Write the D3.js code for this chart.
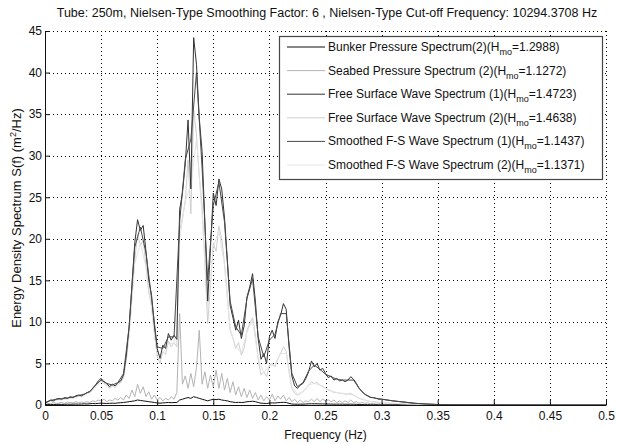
<!DOCTYPE html>
<html>
<head>
<meta charset="utf-8">
<script src="https://cdn.jsdelivr.net/npm/d3@7"></script>
<style>
  body { margin: 0; background: #fff; }
  text { font-family: "Liberation Sans", Arial, sans-serif; fill: #111; }
</style>
</head>
<body>
<div id="container"></div>
<script>
/* DATA */
const titleText = "Tube: 250m, Nielsen-Type Smoothing Factor: 6 , Nielsen-Type Cut-off Frequency: 10294.3708 Hz";
const xTicks = [0, 0.05, 0.1, 0.15, 0.2, 0.25, 0.3, 0.35, 0.4, 0.45, 0.5];
const yTicks = [0, 5, 10, 15, 20, 25, 30, 35, 40, 45];

// sample frequencies (Hz) for the raw spectra
const freqHz = [
  0, 0.0025, 0.005, 0.0075, 0.01, 0.0125, 0.015, 0.0175, 0.02, 0.0225,
  0.025, 0.0275, 0.03, 0.0325, 0.035, 0.0375, 0.04, 0.0425, 0.045, 0.0475,
  0.05, 0.0525, 0.055, 0.0575, 0.06, 0.0625, 0.065, 0.0675, 0.07, 0.0725,
  0.075, 0.0775, 0.08, 0.0825, 0.085, 0.0875, 0.09, 0.0925, 0.095, 0.0975,
  0.1, 0.1025, 0.105, 0.1075, 0.11, 0.1125, 0.115, 0.1175, 0.12, 0.1225,
  0.125, 0.1275, 0.13, 0.1325, 0.135, 0.1375, 0.14, 0.1425, 0.145, 0.1475,
  0.15, 0.1525, 0.155, 0.1575, 0.16, 0.1625, 0.165, 0.1675, 0.17, 0.1725,
  0.175, 0.1775, 0.18, 0.1825, 0.185, 0.1875, 0.19, 0.1925, 0.195, 0.1975,
  0.2, 0.2025, 0.205, 0.2075, 0.21, 0.2125, 0.215, 0.2175, 0.22, 0.2225,
  0.225, 0.2275, 0.23, 0.2325, 0.235, 0.2375, 0.24, 0.2425, 0.245, 0.2475,
  0.25, 0.2525, 0.255, 0.2575, 0.26, 0.2625, 0.265, 0.2675, 0.27, 0.2725,
  0.275, 0.2775, 0.28, 0.2825, 0.285, 0.2875, 0.29, 0.2925, 0.295, 0.2975,
  0.3, 0.31, 0.32, 0.33, 0.34, 0.35, 0.36, 0.38, 0.4, 0.45, 0.5
];

// sample frequencies (Hz) for the smoothed spectra
const freqSmooth = [
  0, 0.005, 0.01, 0.015, 0.02, 0.025, 0.03, 0.035, 0.04, 0.045,
  0.05, 0.055, 0.06, 0.065, 0.07, 0.075, 0.08, 0.085, 0.09, 0.095,
  0.1, 0.105, 0.11, 0.115, 0.12, 0.125, 0.13, 0.135, 0.14, 0.145,
  0.15, 0.155, 0.16, 0.165, 0.17, 0.175, 0.18, 0.185, 0.19, 0.195,
  0.2, 0.205, 0.21, 0.215, 0.22, 0.225, 0.23, 0.235, 0.24, 0.245,
  0.25, 0.255, 0.26, 0.265, 0.27, 0.275, 0.28, 0.285, 0.29, 0.295,
  0.3, 0.31, 0.32, 0.33, 0.34, 0.35, 0.36, 0.38, 0.4, 0.45, 0.5
];

const bunkerPressure = [
  0.05, 0.06, 0.05, 0.07, 0.06, 0.08, 0.07, 0.08, 0.1, 0.09,
  0.1, 0.12, 0.1, 0.12, 0.14, 0.12, 0.15, 0.18, 0.16, 0.2,
  0.22, 0.2, 0.18, 0.2, 0.22, 0.2, 0.25, 0.28,
  0.3, 0.35, 0.4, 0.45, 0.5, 0.6, 0.55, 0.5, 0.45, 0.4,
  0.35, 0.3, 0.25, 0.22, 0.25, 0.28, 0.3, 0.28, 0.3, 0.3,
  0.6, 0.7, 0.8, 0.9, 0.8, 1.0, 0.9, 0.8, 0.7, 0.6,
  0.5, 0.6, 0.7, 0.65, 0.7, 0.6, 0.55, 0.5, 0.4, 0.35,
  0.3, 0.32, 0.3, 0.32, 0.4, 0.42, 0.45, 0.4, 0.3, 0.22,
  0.2, 0.18, 0.24, 0.25, 0.24, 0.28, 0.3, 0.32, 0.3, 0.2,
  0.12, 0.1, 0.09, 0.1, 0.1, 0.12, 0.14, 0.15, 0.14, 0.15,
  0.13, 0.13, 0.12, 0.11, 0.11, 0.1, 0.1, 0.1, 0.1, 0.09,
  0.09, 0.1, 0.09, 0.08, 0.06, 0.05, 0.04, 0.04, 0.03, 0.03,
  0.03, 0.02, 0.02,
  0.02, 0.01, 0.01, 0.01, 0, 0, 0, 0, 0, 0
];

const seabedPressure = [
  0.1, 0.2, 0.15, 0.3, 0.2, 0.25, 0.3, 0.2, 0.35, 0.3,
  0.25, 0.4, 0.3, 0.35, 0.3, 0.4, 0.3, 0.5, 0.4, 0.6,
  0.5, 0.7, 0.4, 0.6, 0.5, 0.8, 0.6, 0.9,
  0.6, 1.2, 0.8, 1.8, 1.0, 2.5, 1.4, 2.2, 1.0, 1.6,
  0.7, 1.2, 0.6, 0.9, 0.5, 0.8, 0.6, 1.0, 0.7, 1.5,
  11.0, 2.5, 3.5, 2.0, 3.8, 2.2, 4.5, 9.0, 2.5, 4.0,
  2.0, 3.6, 2.2, 4.2, 2.0, 3.8, 1.8, 3.2, 1.5, 2.8,
  1.2, 2.2, 1.0, 2.0, 0.9, 1.8, 0.8, 1.5, 0.6, 1.2,
  0.5, 1.0, 0.6, 1.3, 0.5, 1.1, 0.7, 1.2, 0.5, 0.9,
  0.4, 0.7, 0.3, 0.6, 0.3, 0.5, 0.4, 0.7, 0.4, 0.8,
  0.4, 0.7, 0.5, 0.6, 0.4, 0.6, 0.3, 0.5, 0.3, 0.5,
  0.3, 0.6, 0.3, 0.4, 0.2, 0.3, 0.2, 0.25, 0.15, 0.2,
  0.1, 0.15, 0.1,
  0.08, 0.06, 0.05, 0.04, 0.03, 0.02, 0.02, 0.02, 0.01, 0.01
];

const freeSurface1 = [
  0.2, 0.4, 0.6, 0.5, 0.7, 0.8, 0.7, 0.9, 0.8, 1.0,
  0.9, 1.1, 1.2, 1.1, 1.3, 1.5, 1.6, 2.0, 2.4, 2.9,
  3.2, 2.8, 2.6, 2.2, 2.5, 2.3, 2.7, 2.9, 3.6, 6.0,
  9.5, 14.5, 19.5, 22.3, 21.0, 21.6, 18.5, 15.0, 13.2, 9.5,
  6.8, 5.6, 7.2, 6.8, 8.6, 7.8, 8.4, 7.9, 23.5, 25.5,
  29.0, 34.3, 26.0, 44.2, 41.0, 34.5, 30.5, 22.0, 12.5, 19.0,
  25.5, 24.0, 27.2, 26.0, 22.5, 17.5, 12.0, 10.5, 9.0, 10.2,
  8.0, 9.5, 13.0, 14.2, 15.8, 12.5, 8.0, 5.5, 6.2, 5.0,
  8.2, 9.0, 8.0, 10.0, 10.8, 12.2, 11.5, 7.0, 3.5, 2.3,
  2.0, 2.4, 2.6, 3.2, 4.0, 5.3, 4.6, 5.0, 4.2, 4.4,
  3.8, 3.3, 3.5, 3.0, 3.2, 2.9, 3.0, 2.8, 3.0, 3.4,
  3.1, 2.6, 2.0, 1.6, 1.3, 1.1, 0.9, 0.9, 0.8, 0.7,
  0.7,
  0.5, 0.35, 0.2, 0.12, 0.06, 0.03, 0.02, 0.01, 0, 0
];

const freeSurface2 = [
  0.2, 0.35, 0.5, 0.45, 0.6, 0.7, 0.6, 0.8, 0.7, 0.9,
  0.8, 1.0, 1.1, 1.0, 1.2, 1.4, 1.5, 1.8, 2.2, 2.7,
  3.0, 2.6, 2.4, 2.0, 2.3, 2.1, 2.5, 2.7, 3.3, 5.4,
  8.6, 13.0, 17.5, 20.5, 19.2, 19.8, 16.8, 13.5, 12.0, 8.5,
  5.9, 5.0, 6.4, 6.1, 7.7, 7.0, 7.5, 7.0, 21.0, 22.5,
  24.5, 29.5, 23.0, 35.5, 32.5, 27.5, 24.0, 17.0, 9.8, 14.5,
  19.5, 18.5, 21.5, 20.0, 17.0, 13.0, 9.0, 8.0, 6.8, 7.5,
  6.0, 6.8, 9.0, 9.8, 10.5, 8.5, 5.5, 3.6, 4.0, 3.4,
  4.8, 5.0, 4.6, 5.6, 6.2, 7.0, 6.5, 4.0, 2.0, 1.4,
  1.2, 1.4, 1.6, 2.0, 2.4, 2.8, 2.6, 2.7, 2.4, 2.3,
  2.0, 1.8, 1.7, 1.5, 1.5, 1.4, 1.4, 1.3, 1.3, 1.4,
  1.2, 1.0, 0.8, 0.7, 0.6, 0.5, 0.4, 0.4, 0.35, 0.3,
  0.3,
  0.2, 0.15, 0.1, 0.06, 0.03, 0.02, 0.01, 0, 0, 0
];

const smoothed1 = [
  0.3, 0.55, 0.7, 0.75, 0.85, 0.95, 1.15, 1.3, 1.65, 2.4,
  3.0, 2.6, 2.4, 2.7, 3.8, 9.4, 19.0, 21.4, 18.3, 12.8,
  7.0, 6.8, 8.2, 8.2, 22.0, 29.5, 32.0, 40.0, 28.5, 15.0,
  24.0, 26.8, 22.0, 12.5, 9.4, 8.4, 12.8, 15.2, 8.2, 5.8,
  7.8, 8.5, 11.0, 11.0, 3.8, 2.2, 2.7, 4.1, 4.8, 4.3,
  3.7, 3.4, 3.1, 3.0, 3.0, 3.0, 2.0, 1.3, 0.95, 0.8,
  0.7,
  0.5, 0.35, 0.2, 0.12, 0.06, 0.03, 0.02, 0.01, 0, 0
];

const smoothed2 = [
  0.25, 0.5, 0.6, 0.65, 0.75, 0.85, 1.05, 1.2, 1.5, 2.2,
  2.8, 2.4, 2.2, 2.5, 3.5, 8.5, 17.0, 19.5, 16.6, 11.5,
  6.0, 6.2, 7.4, 7.4, 20.0, 24.5, 26.5, 32.0, 23.0, 11.5,
  19.0, 21.0, 16.8, 9.2, 7.0, 6.3, 8.8, 10.2, 5.6, 3.9,
  4.7, 4.8, 6.2, 6.2, 2.2, 1.3, 1.6, 2.4, 2.6, 2.4,
  2.0, 1.7, 1.5, 1.4, 1.3, 1.2, 0.8, 0.6, 0.4, 0.35,
  0.3,
  0.2, 0.15, 0.1, 0.06, 0.03, 0.02, 0.01, 0, 0, 0
];

const seriesNames = [
  "Bunker Pressure Spectrum(2)(H",
  "Seabed Pressure Spectrum (2)(H",
  "Free Surface Wave Spectrum (1)(H",
  "Free Surface Wave Spectrum (2)(H",
  "Smoothed F-S Wave Spectrum (1)(H",
  "Smoothed F-S Wave Spectrum (2)(H"
];
const seriesHmo = ["=1.2988)", "=1.1272)", "=1.4723)", "=1.4638)", "=1.1437)", "=1.1371)"];
const seriesColors = ["#111111", "#b4b4b4", "#333333", "#cfcfcf", "#4a4a4a", "#e4e4e4"];

/* CONSTANTS AND GLOBALS */
const W = 617, H = 444;
const margin = { top: 31, right: 11, bottom: 39, left: 45 };
const width = W - margin.left - margin.right;
const height = H - margin.top - margin.bottom;

const svg = d3.select("#container").append("svg")
  .attr("width", W)
  .attr("height", H);

const x = d3.scaleLinear().domain([0, 0.5]).range([0, width]);
const y = d3.scaleLinear().domain([0, 45]).range([height, 0]);

const g = svg.append("g").attr("transform", `translate(${margin.left},${margin.top})`);

// grid (dotted)
g.append("g").selectAll("line")
  .data(xTicks.filter(d => d > 0))
  .join("line")
  .attr("x1", d => Math.round(x(d)) + 0.5).attr("x2", d => Math.round(x(d)) + 0.5)
  .attr("y1", 0).attr("y2", height)
  .attr("stroke", "#000").attr("stroke-dasharray", "1,3");
g.append("g").selectAll("line")
  .data(yTicks.filter(d => d > 0))
  .join("line")
  .attr("y1", d => Math.round(y(d)) + 0.5).attr("y2", d => Math.round(y(d)) + 0.5)
  .attr("x1", 0).attr("x2", width)
  .attr("stroke", "#000").attr("stroke-dasharray", "1,3");

// lines
const series = [
  { f: freqHz, v: bunkerPressure },
  { f: freqHz, v: seabedPressure },
  { f: freqHz, v: freeSurface1 },
  { f: freqHz, v: freeSurface2 },
  { f: freqSmooth, v: smoothed1 },
  { f: freqSmooth, v: smoothed2 }
];
const line = d3.line().x(d => x(d[0])).y(d => y(d[1]));

const drawOrder = [1, 0, 3, 5, 2, 4];
drawOrder.forEach(i => {
  g.append("path")
    .datum(d3.zip(series[i].f, series[i].v))
    .attr("fill", "none")
    .attr("stroke", seriesColors[i])
    .attr("stroke-width", 1)
    .attr("d", line);
});

// axes
const xAxis = g.append("g")
  .attr("transform", `translate(0,${height})`)
  .call(d3.axisBottom(x).tickValues(xTicks).tickFormat(d => d3.format("")(+d.toFixed(2))).tickSizeInner(-5).tickSizeOuter(0).tickPadding(6));
const yAxis = g.append("g")
  .call(d3.axisLeft(y).tickValues(yTicks).tickSizeInner(-5).tickSizeOuter(0).tickPadding(3));
[xAxis, yAxis].forEach(a => {
  a.selectAll("path, line").attr("stroke", "#111");
  a.selectAll("text").style("font-size", "12px").attr("fill", "#111")
    .style("font-family", "'Liberation Sans', Arial, sans-serif");
});

// title and axis labels
svg.append("text")
  .attr("x", 327).attr("y", 17)
  .attr("text-anchor", "middle")
  .style("font-size", "12.5px")
  .text(titleText);

svg.append("text")
  .attr("x", margin.left + width / 2).attr("y", 439)
  .attr("text-anchor", "middle")
  .style("font-size", "12px")
  .text("Frequency (Hz)");

const yl = svg.append("text")
  .attr("transform", `translate(21,${margin.top + height / 2}) rotate(-90)`)
  .attr("text-anchor", "middle")
  .style("font-size", "13px");
yl.append("tspan").text("Energy Density Spectrum S(f) (m");
yl.append("tspan").attr("dy", -5).style("font-size", "9px").text("2");
yl.append("tspan").attr("dy", 5).text("/Hz)");

// legend
const lg = svg.append("g");
lg.append("rect")
  .attr("x", 279.5).attr("y", 36.5)
  .attr("width", 323).attr("height", 143)
  .attr("fill", "#fff").attr("stroke", "#444").attr("stroke-width", 1.2);

seriesNames.forEach((name, i) => {
  const cy = 47 + i * 23.6;
  lg.append("line")
    .attr("x1", 287).attr("x2", 325)
    .attr("y1", cy).attr("y2", cy)
    .attr("stroke", seriesColors[i]);
  const t = lg.append("text")
    .attr("x", 328).attr("y", cy + 4)
    .style("font-size", "12px");
  t.append("tspan").text(name);
  t.append("tspan").attr("dy", 4).style("font-size", "9px").text("mo");
  t.append("tspan").attr("dy", -4).text(seriesHmo[i]);
});
</script>
</body>
</html>
